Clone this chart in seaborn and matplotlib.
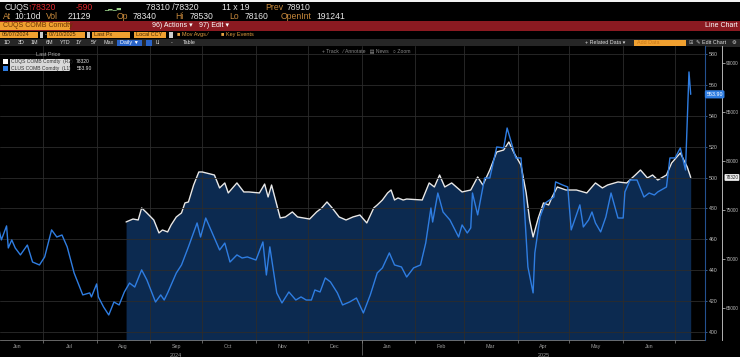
import pandas as pd
import matplotlib
matplotlib.use("Agg")
import matplotlib.pyplot as plt
import matplotlib.dates as mdates
import matplotlib.transforms as mtransforms
from matplotlib.patches import Rectangle
from matplotlib.ticker import FixedLocator, NullFormatter
import seaborn as sns

# CLUS COMB Comdty (L1) - blue
clus_dates = ["2024-06-05","2024-06-07","2024-06-10","2024-06-11","2024-06-13","2024-06-15","2024-06-18","2024-06-22","2024-06-25","2024-06-29",
              "2024-07-02","2024-07-06","2024-07-09","2024-07-12","2024-07-15","2024-07-19","2024-07-24","2024-07-28","2024-07-29",
              "2024-08-01","2024-08-02","2024-08-05","2024-08-08","2024-08-11","2024-08-14","2024-08-17","2024-08-20","2024-08-23","2024-08-27","2024-08-30",
              "2024-09-04","2024-09-07","2024-09-09","2024-09-11","2024-09-16","2024-09-19","2024-09-23","2024-09-28","2024-09-30",
              "2024-10-03","2024-10-06","2024-10-11","2024-10-14","2024-10-17","2024-10-21","2024-10-24","2024-10-27",
              "2024-11-01","2024-11-05","2024-11-07","2024-11-09","2024-11-13","2024-11-16","2024-11-20","2024-11-24","2024-11-27","2024-11-30",
              "2024-12-03","2024-12-05","2024-12-08","2024-12-11","2024-12-14","2024-12-18","2024-12-21","2024-12-25","2024-12-29",
              "2025-01-02","2025-01-06","2025-01-10","2025-01-13","2025-01-17","2025-01-20","2025-01-24","2025-01-27","2025-01-31",
              "2025-02-04","2025-02-07","2025-02-10","2025-02-11","2025-02-14","2025-02-17","2025-02-21","2025-02-26","2025-02-28",
              "2025-03-03","2025-03-05","2025-03-06","2025-03-09","2025-03-13","2025-03-16","2025-03-20","2025-03-24","2025-03-26","2025-03-28","2025-03-31",
              "2025-04-03","2025-04-04","2025-04-07","2025-04-10","2025-04-11","2025-04-14","2025-04-17","2025-04-22","2025-04-23","2025-04-27","2025-04-30",
              "2025-05-02","2025-05-04","2025-05-07","2025-05-09","2025-05-12","2025-05-14","2025-05-16","2025-05-19","2025-05-22","2025-05-25","2025-05-29",
              "2025-06-01","2025-06-02","2025-06-05","2025-06-09","2025-06-13","2025-06-16","2025-06-19","2025-06-21","2025-06-26","2025-06-28",
              "2025-07-01","2025-07-04","2025-07-07","2025-07-09","2025-07-10"]
clus_px = [469.3,459.6,468.7,454.4,459.6,454.4,449.9,456.3,445.3,443.4,
           448.6,466.1,461.5,462.8,455.1,438.2,424.0,425.3,422.7,431.1,
           422.7,416.2,411.0,419.4,417.5,425.9,431.7,429.1,440.2,433.7,
           419.4,424.0,420.7,425.3,438.2,443.4,455.1,470.6,461.5,473.8,
           466.1,453.1,457.6,445.3,449.9,447.9,448.6,446.6,458.3,436.9,
           455.1,425.3,418.8,425.9,420.7,422.7,420.7,420.7,427.2,425.9,
           435.0,432.4,425.3,417.5,419.4,422.0,412.3,424.0,438.2,441.5,
           451.2,443.4,442.1,435.6,441.5,443.4,457.6,480.3,471.2,490.0,
           477.7,472.5,461.5,469.3,464.1,467.4,490.0,475.8,499.7,499.7,
           519.8,519.2,532.1,524.4,512.7,512.7,498.4,442.1,425.3,451.2,
           474.5,483.5,487.4,497.2,495.2,493.9,466.1,472.5,482.3,468.0,
           472.5,477.7,470.6,464.8,474.5,490.0,473.8,473.8,490.7,498.4,
           498.4,487.4,490.0,488.7,490.7,493.9,512.7,512.7,519.2,504.9,
           568.4,553.9]

# CUQS COMB Comdty (R2) - white, area
cuqs_dates = ["2024-08-18","2024-08-22","2024-08-25","2024-08-27","2024-08-30",
              "2024-09-03","2024-09-06","2024-09-08","2024-09-11","2024-09-13","2024-09-16","2024-09-19","2024-09-21","2024-09-23","2024-09-26","2024-09-29",
              "2024-10-01","2024-10-08","2024-10-11","2024-10-14","2024-10-16","2024-10-21","2024-10-25","2024-10-28",
              "2024-11-03","2024-11-06","2024-11-08","2024-11-10","2024-11-15","2024-11-18","2024-11-22","2024-11-25",
              "2024-12-02","2024-12-06","2024-12-09","2024-12-12","2024-12-15","2024-12-19","2024-12-23","2024-12-27","2024-12-31",
              "2025-01-04","2025-01-08","2025-01-10","2025-01-13","2025-01-16","2025-01-18","2025-01-20","2025-01-22","2025-01-25","2025-01-27",
              "2025-02-05","2025-02-09","2025-02-12","2025-02-15","2025-02-18","2025-02-22","2025-02-28",
              "2025-03-05","2025-03-09","2025-03-12","2025-03-16","2025-03-20","2025-03-24","2025-03-27","2025-03-30",
              "2025-04-03","2025-04-06","2025-04-08","2025-04-10","2025-04-13","2025-04-16","2025-04-19","2025-04-21","2025-04-24","2025-04-29",
              "2025-05-05","2025-05-09","2025-05-11","2025-05-16","2025-05-20","2025-05-23","2025-05-29",
              "2025-06-03","2025-06-08","2025-06-11","2025-06-15","2025-06-18","2025-06-21","2025-06-26","2025-06-29",
              "2025-07-04","2025-07-08","2025-07-10"]
cuqs_px = [73780, 74080, 73980, 75210, 74700, 73980, 72660, 72960, 72760, 73470,
           74290, 74700, 75720, 75820, 77550, 78880, 78880, 78570, 77250, 77760,
           76740, 77760, 76840, 76840, 76740, 77650, 76330, 77550, 74190, 74290,
           74800, 74290, 74080, 74800, 75210, 75820, 75210, 74290, 73980, 74290,
           74490, 73680, 75210, 75510, 76020, 76740, 77040, 76020, 76230, 76020,
           76120, 76020, 77760, 77350, 78570, 77350, 77760, 76840, 77040, 78370,
           77550, 79080, 80920, 81120, 81940, 80820, 79590, 76740, 73980, 72250,
           74190, 75720, 75510, 76330, 77350, 77040, 77040, 76840, 76740, 77760,
           77250, 77550, 77860, 77760, 78570, 79080, 78270, 78570, 78060, 78570,
           79800, 80820, 79390, 78320]

left_ticks = [400, 420, 440, 460, 480, 500, 520, 540, 560, 580]
right_ticks = [65000, 70000, 75000, 80000, 85000, 90000]
year_labels = [("2024-09-16", "2024"), ("2025-04-16", "2025")]

clus = pd.DataFrame({"date": pd.to_datetime(clus_dates), "px": clus_px})
cuqs = pd.DataFrame({"date": pd.to_datetime(cuqs_dates), "px": cuqs_px})

BLUE = "#2f7de1"
GRID = "#2c2c2c"
ORANGE = "#f0a030"
LBL = "#c98a3c"
TXT = "#e6e6e6"

sns.set_theme(style="dark", rc={"axes.facecolor": "black", "figure.facecolor": "black",
                                "axes.edgecolor": "#777777", "text.color": TXT})
plt.rcParams['font.family'] = ['Liberation Sans', 'DejaVu Sans']

fig = plt.figure(figsize=(7.4, 3.57), dpi=100)
fig.patch.set_facecolor("black")

# terminal header drawn in pixel coordinates
hdr = fig.add_axes([0, 0, 1, 1], zorder=0)
hdr.set_xlim(0, 740)
hdr.set_ylim(357, 0)
hdr.axis("off")


def box(x0, y0, x1, y1, c):
    hdr.add_patch(Rectangle((x0, y0), x1 - x0, y1 - y0, fc=c, lw=0))


def t(x, y, s, c=TXT, fs=4.2, **kw):
    hdr.text(x, y, s, color=c, fontsize=fs, va="center", **kw)


box(0, 0, 740, 2, "#f2f2f2")
# row 1
t(5, 7, "CUQS", fs=6.2)
t(28, 7, "↑78320", c="#e0262b", fs=6.2)
t(76, 7, "-590", c="#e0262b", fs=6.2)
t(104, 7.5, "▁▂▁▃", c="#9ad08a", fs=4)
t(146, 7, "78310 /78320", fs=6.2)
t(222, 7, "11 x 19", fs=6.2)
t(265, 7, "Prev", c=LBL, fs=6.2)
t(287, 7, "78910", fs=6.2)
# row 2
for x, s, c in [(3, "At", LBL), (14, "10:10d", TXT), (46, "Vol", LBL), (68, "21129", TXT),
                (117, "Op", LBL), (133, "78340", TXT), (175, "Hi", LBL), (190, "78530", TXT),
                (229, "Lo", LBL), (245, "78160", TXT), (281, "OpenInt", LBL), (316, "191241", TXT)]:
    t(x, 16.5, s, c=c, fs=6.2)
# row 3 red bar
box(0, 21, 740, 30.5, "#8b1a21")
box(0, 21.5, 70, 30, ORANGE)
t(3, 25.8, "CUQS COMB Comdty", c="#6a3300", fs=5)
t(152, 25.8, "96) Actions ▾", c="white", fs=5)
t(199, 25.8, "97) Edit ▾", c="white", fs=5)
t(738, 25.8, "Line Chart", c="white", fs=5, ha="right")
# row 4 inputs
box(0, 31.5, 38, 38, ORANGE)
t(2, 34.8, "06/07/2024", c="#4a2a00", fs=4)
box(39.5, 32, 43, 37.5, "#cccccc")
t(44.5, 34.8, "-", c=TXT, fs=4)
box(47, 31.5, 85, 38, ORANGE)
t(49, 34.8, "07/10/2025", c="#4a2a00", fs=4)
box(86.5, 32, 90, 37.5, "#cccccc")
box(92, 31.5, 130, 38, ORANGE)
t(94, 34.8, "Last Px", c="#4a2a00", fs=4)
box(134, 31.5, 166, 38, ORANGE)
t(136, 34.8, "Local CCY", c="#4a2a00", fs=4)
box(169, 32, 172.5, 37.5, "#cccccc")
t(177, 34.8, "■ Mov Avgs ⁄", c="#e3a040", fs=4)
t(221, 34.8, "■ Key Events", c="#e3a040", fs=4)
# row 5 toolbar
box(0, 38.5, 740, 46.5, "#262626")
for x, s in [(4, "1D"), (18, "3D"), (31, "1M"), (46, "6M"), (60, "YTD"), (76, "1Y"), (91, "5Y"), (104, "Max")]:
    t(x, 42.5, s, c="#dddddd", fs=3.9)
box(117, 39.5, 142, 45.5, "#2a64c8")
t(120, 42.5, "Daily ▼", c="white", fs=3.9)
box(146, 39.5, 152, 45.5, "#2a64c8")
t(156, 42.5, "LI", c="#dddddd", fs=3.9)
t(171, 42.5, "-", c="#dddddd", fs=3.9)
t(183, 42.5, "Table", c="#dddddd", fs=3.9)
t(585, 42.5, "+ Related Data ▾", c="#dddddd", fs=3.9)
box(634, 39.5, 686, 45.5, ORANGE)
t(637, 42.5, "Add Data", c="#c87818", fs=3.9)
t(689, 42.5, "⊞", c="#aaaaaa", fs=3.9)
t(696, 42.5, "✎ Edit Chart", c="#dddddd", fs=3.9)
t(732, 42.5, "⚙", c="#dddddd", fs=3.9)

# chart axes: white series (area) on ax, blue series on twin
ax = fig.add_axes([0, 17 / 357, 705 / 740, 294 / 357], zorder=1)
ax.set_facecolor("black")
ax2 = ax.twinx()

ax.fill_between(cuqs["date"], cuqs["px"], 50000, color="#0c2a50", lw=0, zorder=1)
sns.lineplot(data=cuqs, x="date", y="px", ax=ax, color="#e8e8e8", lw=1.0, zorder=3)
sns.lineplot(data=clus, x="date", y="px", ax=ax2, color=BLUE, lw=1.0, zorder=3)

ax.set_xlim(pd.Timestamp("2024-06-06 05:00"), pd.Timestamp("2025-07-18 06:00"))
ax.set_ylim(61735, 91735)
ax2.set_ylim(394.8, 585.2)
for a in (ax, ax2):
    a.set_xlabel("")
    a.set_ylabel("")

# x axis: month boundaries as ticks + grid, month names in between
ax.xaxis.set_major_locator(mdates.MonthLocator())
ax.xaxis.set_major_formatter(NullFormatter())
mids = pd.date_range("2024-06-01", "2025-06-01", freq="MS") + pd.Timedelta(days=15)
ax.xaxis.set_minor_locator(FixedLocator(mdates.date2num(mids)))
ax.xaxis.set_minor_formatter(mdates.DateFormatter("%b"))
ax.tick_params(axis="x", which="major", length=2.5, width=0.5, color="#888888", bottom=True)
ax.tick_params(axis="x", which="minor", length=0, labelsize=3.9, labelcolor="#9a9a9a", pad=3)
ax.set_axisbelow(False)
ax.xaxis.grid(True, which="major", color=GRID, lw=0.6, zorder=2)
ax.yaxis.grid(False)
ax2.yaxis.grid(True, color=GRID, lw=0.6)
ax2.xaxis.grid(False)

bt = mtransforms.blended_transform_factory(ax.transData, ax.transAxes)
for d, s in year_labels:
    ax.text(mdates.date2num(pd.Timestamp(d)), -0.045, s, transform=bt, ha="center", va="top",
            fontsize=3.9, color="#9a9a9a")
ax.vlines(mdates.date2num(pd.Timestamp("2025-01-01")), -0.05, 0, transform=bt,
          color="#777777", lw=0.5, clip_on=False)

# y axes both on the right
ax.yaxis.tick_right()
ax.yaxis.set_major_locator(FixedLocator(right_ticks))
ax.yaxis.set_major_formatter(matplotlib.ticker.FormatStrFormatter("%d"))
ax.tick_params(axis="y", which="both", right=True, left=False, length=1.8, width=0.5,
               color="#cfcfcf", labelsize=3.4, labelcolor="#bbbbbb", pad=0.8)
ax.spines["right"].set_position(("outward", 12))
ax.spines["right"].set_color("#cfcfcf")
ax.spines["right"].set_linewidth(0.6)
for s in ("top", "left"):
    ax.spines[s].set_visible(False)
ax.spines["bottom"].set_color("#777777")
ax.spines["bottom"].set_linewidth(0.6)

ax2.yaxis.set_major_locator(FixedLocator(left_ticks))
ax2.tick_params(axis="y", length=1.5, width=0.5, color="#4f7fc0", labelsize=3.8,
                labelcolor="#bbbbbb", pad=1.5)
for s in ("top", "left", "bottom"):
    ax2.spines[s].set_visible(False)
ax2.spines["right"].set_color("#24508f")
ax2.spines["right"].set_linewidth(0.8)

# last value tags
bt2 = mtransforms.blended_transform_factory(ax2.transAxes, ax2.transData)
ax2.text(1.002, clus["px"].iloc[-1], f"{clus['px'].iloc[-1]:.2f}", transform=bt2, ha="left", va="center",
         fontsize=3.8, color="white", clip_on=False,
         bbox=dict(boxstyle="round,pad=0.3", fc=BLUE, ec="none"))
bt1 = mtransforms.blended_transform_factory(ax.transAxes, ax.transData)
ax.text(1.029, cuqs["px"].iloc[-1], f"{cuqs['px'].iloc[-1]}", transform=bt1, ha="left", va="center",
        fontsize=3.3, color="#222222", clip_on=False,
        bbox=dict(boxstyle="round,pad=0.2", fc="#eeeeee", ec="none"))

# chart toolbar + legend (overlay)
top = fig.add_axes([0, 0, 1, 1], zorder=5)
top.set_xlim(0, 740)
top.set_ylim(357, 0)
top.axis("off")
top.patch.set_alpha(0)
top.text(322, 50.5, "+ Track   ⁄ Annotate   ▤ News   ○ Zoom", color="#8a8a8a", fontsize=3.7, va="center")
top.text(36, 55, "Last Price", color="#aaaaaa", fontsize=4, va="center")
top.add_patch(Rectangle((3, 59), 5, 5, fc="white", lw=0))
top.add_patch(Rectangle((10, 58.5), 60, 6, fc="#d9d9d9", lw=0))
top.text(11, 61.6, "CUQS COMB Comdty  (R2)", color="#333333", fontsize=3.6, va="center")
top.text(76, 61.6, f"{cuqs['px'].iloc[-1]}", color=TXT, fontsize=3.6, va="center")
top.add_patch(Rectangle((3, 65.5), 5, 5, fc=BLUE, lw=0))
top.add_patch(Rectangle((10, 65), 60, 6, fc="#d9d9d9", lw=0))
top.text(11, 68.1, "CLUS COMB Comdty  (L1)", color="#333333", fontsize=3.6, va="center")
top.text(77, 68.1, f"{clus['px'].iloc[-1]:.2f}", color=TXT, fontsize=3.6, va="center")

fig.savefig("out.png", dpi=100, facecolor="black")
